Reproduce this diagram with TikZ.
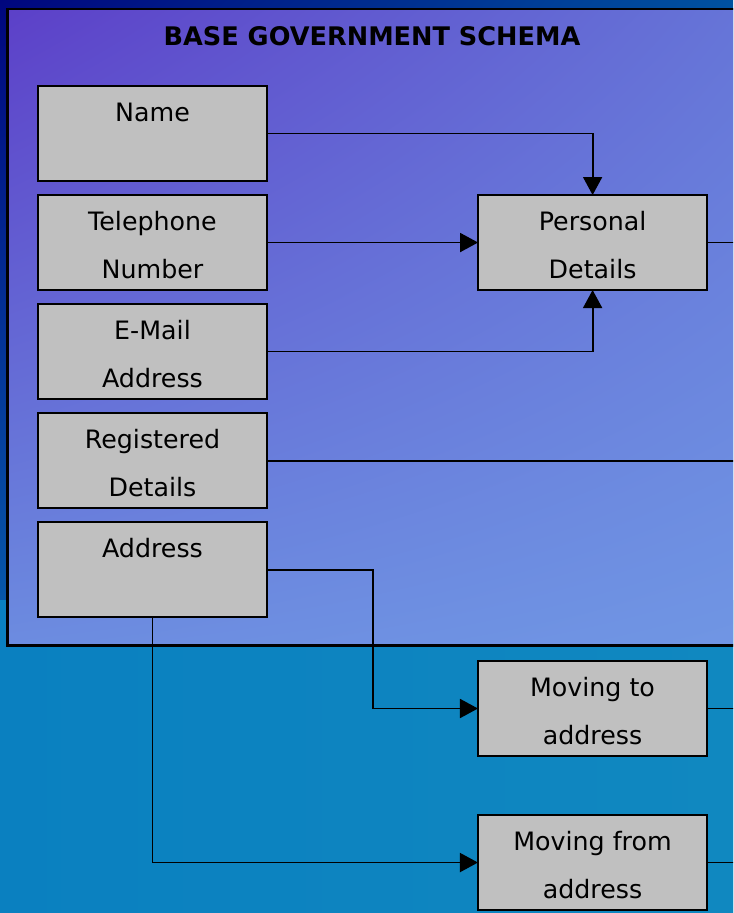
\documentclass[tikz,border=0pt]{standalone}
\usepackage{fontspec}
\setmainfont{DejaVu Sans}
\usetikzlibrary{positioning,arrows.meta,calc,shadings}

\definecolor{bgnavy}{HTML}{00067E}
\definecolor{bgsky}{HTML}{0052A0}
\definecolor{bgteal}{HTML}{0A80C0}
\definecolor{bgdeep}{HTML}{0D6A98}
\definecolor{bgcyan}{HTML}{1088C0}
\definecolor{pnviolet}{HTML}{5C40C8}
\definecolor{pnblue}{HTML}{6676D8}
\definecolor{pnlow}{HTML}{6C8CE0}
\definecolor{pnlowr}{HTML}{7096E4}
\definecolor{boxgray}{HTML}{C0C0C0}

\newcommand{\topgap}{\rule{0pt}{17pt}}

\tikzset{
  entity/.style={draw=black, line width=1.6pt, fill=boxgray, outer sep=0pt,
    minimum width=5.725cm, minimum height=2.375cm, inner sep=0pt,
    align=center, font=\fontsize{18}{34.1}\selectfont},
  link/.style={line width=1.3pt, -{Triangle[length=0.45cm,width=0.475cm]}},
  stub/.style={line width=1.3pt},
}

\begin{document}
\begin{tikzpicture}[x=0.025cm, y=-0.025cm]

\clip (0,0) rectangle (733,913);
\shade[upper left=bgnavy, upper right=bgsky, lower left=bgteal, lower right=bgcyan]
  (0,0) rectangle (733,913);
\shade[left color=bgteal, middle color=bgdeep, right color=bgcyan] (0,600) rectangle (733,913);
\shade[upper left=pnviolet, upper right=pnblue, lower left=pnlow, lower right=pnlowr]
  (7.5,9) rectangle (760,645.5);
\draw[line width=1.6pt] (7.5,9) rectangle (760,645.5);

\node[font=\bfseries\fontsize{18.2}{20}\selectfont] (title) at (372,36) {BASE GOVERNMENT SCHEMA};

% left column
\node[entity] (name) at (152.5,133.5) {\topgap Name\\\mbox{}};
\node[entity, below=0.35cm of name] (phone) {\topgap Telephone\\Number};
\node[entity, below=0.35cm of phone] (mail) {\topgap E-Mail\\Address};
\node[entity, below=0.35cm of mail] (reg) {\topgap Registered\\Details};
\node[entity, below=0.35cm of reg] (addr) {\topgap Address\\\mbox{}};

% right column
\node[entity, right=5.275cm of phone] (pers) {\topgap Personal\\Details};
\node[entity] (movto) at (592.5,708.5) {\topgap Moving to\\address};
\node[entity, below=1.475cm of movto] (movfrom) {\topgap Moving from\\address};

\coordinate (edge) at (760,0);
\coordinate (bend) at (373,0);

\draw[link] (name.east) -| (pers.north);
\draw[link] (phone.east) -- (phone.east -| pers.west);
\draw[link] (mail.east) -| (pers.south);
\draw[stub] (reg.east) -- (reg.east -| edge);
\draw[link] (addr.east) -| (bend |- movto.west) -- (movto.west);
\draw[link] (addr.south) |- (movfrom.west);

\foreach \b in {pers,movto,movfrom}{\draw[stub] (\b.east) -- (\b.east -| edge);}
\end{tikzpicture}
\end{document}
